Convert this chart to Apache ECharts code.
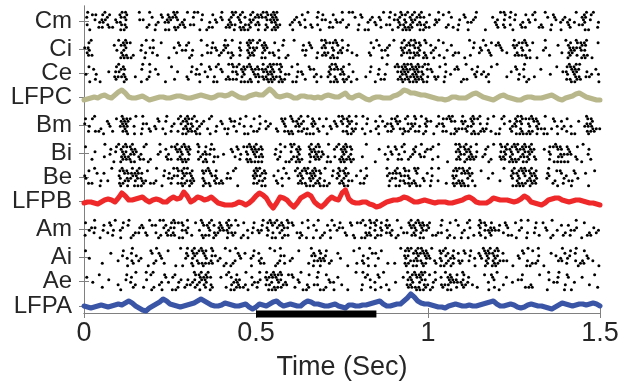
<!DOCTYPE html>
<html>
<head>
<meta charset="utf-8">
<title>Raster and LFP</title>
<script src="https://cdn.jsdelivr.net/npm/echarts@6/dist/echarts.min.js"></script>
<style>
html, body { margin: 0; padding: 0; background: #fff; }
#chart { width: 624px; height: 386px; }
</style>
</head>
<body>
<div id="chart"></div>
<script>
// time base: one character / one LFP sample per 10 ms bin
var binSec = 0.01;
var stimulus = [0.5, 0.85];
var xTicks = [0, 0.5, 1, 1.5];

// spikes: 2 hex strings per unit, 1 digit per bin, bits = 4 trials each (top trial = 8)
var spikesCm = [
    '284505b401 6ad000910a 006073e901 8288500412 903ca5a05b 66ad7f9000 0304180285 10410908a0 6003021828 53c5a5b6a0 401940a001 6003800020 18d2850041 4900a06103 0108278580',
    '4100aa4228 d520000060 58099036c2 440101a280 06e50b75a4 d0529f6004 90c0242410 0a28806005 0190c02441 0e5b7a4d5a 2480060250 098000100c 2424104a28 0062050090 c28449100a'
];
var spikesCi = [
    '1580000020 a6d4002081 9040001602 4000820510 2b080506d9 5a71040280 080206100b d45e092000 00041a0030 805b6ad70c 2018402000 008501a042 61002b45e0 4000900200 a51d768004',
    '4a20000008 5b31208504 0200104088 1a00244086 84520a0d6a 0594429012 0008a00506 61b5c08402 0042009820 00e4d56a53 4902180640 1020480c20 0840062a39 0108020040 5e829b2100'
];
var spikesCe = [
    '0420000105 b600002809 2000040100 052081604a 108d5a74e3 62b5f9ad00 4091062000 07ae250810 0005020080 4d7fbe7d5a a104090260 0820501040 8000160280 0020000401 5e7b801020',
    '810a100046 4d20401060 0801002004 2089040510 0622a5913c d46bf653a8 1508204940 49538b6102 0400182a00 06be7df6b5 0460508001 220c084900 004000a412 4000080000 a3d6244809'
];
var spikesBm = [
    '5048002104 2f74080910 06028014b6 d5a0304802 1062050804 0920100650 e25b087140 4021ad6b09 085020a015 6b0491d087 200954ea02 b06d490508 049207ad45 e610806020 400200d700',
    '0a02610820 8eb0905042 c0410a025d 6a790410a0 4508209182 60480420a3 38a6519428 1c0802b560 410249082e 0452682a1a 0180a21564 4a93166021 5004a9531b 2d45140948 291008be64'
];
var spikesBi = [
    '4001008205 a5d6b10480 0092046b5e 700d052a00 00216045e7 b600020940 da7006b5d1 0824a7d600 0080020041 6049025083 24080000bd 6b50902408 0d7a5eb6d7 b002054e60 6104082000',
    '0020040810 5e6b94a212 0804a206b3 a0069b8540 80040a0b3d 5d00086011 65b20d4e68 51407b6b20 4000100828 0a20680c40 024001006a 96e6048120 46a5b36d5a 42000a15d9 9842108200'
];
var spikesBe = [
    '140a020080 5e62b7a040 0805209d6b a50064e150 0204800007 db600140a0 04b5ea7d60 8052d6b001 40900000b2 6a1d50e802 09080005da e6b0040020 00807a5ed6 b500290460 1060020040',
    '8220504000 b6d859d602 60108a02b6 5e00d234a6 288010000a 6590042908 006a3d96b5 12086b5400 2a00000058 9542b631c0 5040020b67 3941000800 400095b36d 6a0080610a 4508001000'
];
var spikesAm = [
    '4019020608 052800310a 208b05d460 9040e25a07 16b0a04005 0285e4b61d 6004092080 20a0510604 4a0d6852b0 08106b5e72 50028040a0 04902d6051 2061040908 0504108020 2009040010',
    '28401840a0 9001640420 4124a6219c 020832a568 8d46012940 c80a514922 0452101816 0908042030 156292a44a 124406a598 0264092105 8102429ca8 8402218050 4020812806 0a80106248'
];
var spikesAi = [
    '4000000200 0502810006 0a10400082 96b4e50d10 0840a12005 2000840910 004000b160 5002000040 810a204000 0085da6be7 18064b0520 605021e7a5 d200001608 409002010a 0528041000',
    '0800020004 0094248010 6082001018 0b423a6248 1216080090 4a20016024 80000254dc 0600801002 4290180020 200b65d43a 842d169a46 0409085a5b 6440108051 26010004c0 a041628401'
];
var spikesAe = [
    '2000400100 0052080094 8006024010 10d6b7a002 04a0510820 092b6e5d04 6018040280 4102000008 0a41060800 0020b5e6d9 40920a7150 d200004061 8020001500 0040090280 6000200040',
    '0080020004 1008600201 2490811a06 48694a5200 0259e26148 a04593a6c0 0281524411 2890401000 5002902410 80046a3b56 1a046598ac 6840200902 1400800026 2000108805 0180004002'
];

// LFP traces, one sample per bin (a.u.)
var lfpC = [-3,-2,-1,0,-1,1,2,0,-1,2, 5,7,4,0,-1,-1,0,1,-1,-3, -2,-1,0,0,-1,-1,0,1,1,0,
    -1,-1,0,1,2,1,0,-1,0,2, 2,1,2,4,2,0,-1,-1,1,2, 3,2,2,5,8,5,1,0,1,2,
    1,-1,-1,1,1,0,0,-1,0,-1, 1,2,1,0,0,2,4,0,-1,1, 2,0,-2,-3,-1,0,0,-1,-1,-1,
    1,2,4,7,6,4,4,3,2,2, 1,0,-1,-2,-2,-3,-2,0,0,-1, -1,-1,1,3,4,2,0,-1,-2,-3,
    -1,1,2,0,-1,-2,-3,-3,-1,0, 0,-1,-1,-1,0,1,2,0,-2,-3, -1,0,1,3,4,2,0,-1,-2,-3, -3];
var lfpB = [-2,-1,-1,-2,-3,-1,1,2,1,-1, 3,8,5,1,1,2,3,4,1,-1, 1,2,1,-1,-1,2,4,2,3,9,
    5,-1,1,4,3,1,2,4,1,-2, -3,-4,-4,-4,-3,-1,-2,-4,-2,1, 5,8,6,3,-3,-7,-2,4,3,1,
    -3,-6,-2,3,5,7,5,-1,-4,-6, -3,1,4,2,1,8,11,2,-1,-2, -2,-1,-1,-3,-4,-6,-5,-3,-1,0,
    1,1,2,4,3,1,-1,-1,0,1, 0,-1,-2,-1,-1,-1,-2,-2,-1,0, 1,3,4,2,-1,-2,-2,-2,0,3,
    2,1,1,1,0,-1,0,2,5,3, -1,-2,-3,-4,-2,1,2,3,3,1, 0,-1,0,1,1,0,-1,-2,-2,-3, -4];
var lfpA = [0,-1,-2,-1,0,1,0,-1,0,1, 2,1,3,5,3,0,-2,-4,-5,-2, 0,2,4,7,5,2,1,0,-1,0,
    1,2,3,5,7,5,3,1,0,0, 1,3,2,1,0,0,1,2,-1,-3, -1,2,1,0,2,4,5,2,0,1,
    2,1,0,0,3,5,4,2,2,1, 0,0,1,2,0,-1,-2,1,1,0, 0,1,1,2,3,4,5,2,0,0,
    1,2,2,5,8,12,9,5,3,2, 2,1,0,-1,-1,-2,0,1,2,1, 0,0,1,0,0,1,2,3,4,5,
    2,0,0,1,2,1,-1,-2,-1,1, 2,1,0,0,-1,-2,-3,-1,1,3, 2,1,0,1,2,2,1,2,3,2, 0];

// row layout (y axis runs in pixels up from the bottom of the box)
var rows = [
    {name: 'Cm', y: 292, spikes: spikesCm},
    {name: 'Ci', y: 264, spikes: spikesCi},
    {name: 'Ce', y: 240, spikes: spikesCe},
    {name: 'LFPC', y: 216, lfp: lfpC, color: '#b8b78b'},
    {name: 'Bm', y: 188, spikes: spikesBm},
    {name: 'Bi', y: 160, spikes: spikesBi},
    {name: 'Be', y: 136, spikes: spikesBe},
    {name: 'LFPB', y: 112, lfp: lfpB, color: '#ef2929'},
    {name: 'Am', y: 84, spikes: spikesAm},
    {name: 'Ai', y: 56, spikes: spikesAi},
    {name: 'Ae', y: 32, spikes: spikesAe},
    {name: 'LFPA', y: 7, lfp: lfpA, color: '#3b55a6'}
];
var rowPos = rows.map(function (r) { return r.y; });
var rowName = {};
rows.forEach(function (r) { rowName[r.y] = r.name; });

function spikeDots(strs, y0) {
    var pts = [];
    strs.forEach(function (s, h) {
        s = s.replace(/ /g, '');
        for (var i = 0; i < s.length; i++) {
            var v = parseInt(s[i], 16);
            for (var b = 0; b < 4; b++) {
                if (v & (8 >> b)) {
                    var k = h * 4 + b;
                    pts.push([(i + 0.5) * binSec + ((k * 3) % 8 - 3.5) * 0.0012, y0 + 8.75 - k * 2.5]);
                }
            }
        }
    });
    return pts;
}

var series = [];
rows.forEach(function (r) {
    if (r.spikes) {
        series.push({
            type: 'scatter', name: r.name, symbol: 'circle', symbolSize: 3,
            itemStyle: {color: '#000', opacity: 1}, silent: true,
            data: spikeDots(r.spikes, r.y)
        });
    } else {
        series.push({
            type: 'line', name: r.name, showSymbol: false, smooth: false, silent: true,
            lineStyle: {color: r.color, width: 5, join: 'round', cap: 'round'},
            data: r.lfp.map(function (v, i) { return [i * binSec, r.y + v]; })
        });
    }
});
// stimulus bar on the time axis
series.push({
    type: 'line', showSymbol: false, clip: false, silent: true, z: 10,
    lineStyle: {color: '#000', width: 7},
    data: [[stimulus[0], -1], [stimulus[1], -1]]
});

var boxColor = '#808080';
var textColor = '#262626';
var font = "'Liberation Sans', Arial, sans-serif";

var chart = echarts.init(document.getElementById('chart'));
chart.setOption({
    animation: false,
    grid: {left: 84, right: 24, top: 6, bottom: 73},
    xAxis: [{
        type: 'value', min: 0, max: 1.5, interval: 0.5,
        axisLine: {show: true, lineStyle: {color: boxColor}},
        axisTick: {show: true, inside: true, length: 5, customValues: xTicks, lineStyle: {color: boxColor}},
        axisLabel: {fontSize: 27, color: textColor, fontFamily: font, margin: 7},
        splitLine: {show: false},
        name: 'Time (Sec)', nameLocation: 'middle', nameGap: 41,
        nameTextStyle: {fontSize: 27, color: textColor, fontFamily: font}
    }, {
        type: 'value', position: 'top', min: 0, max: 1.5, interval: 0.5,
        axisLine: {show: true, lineStyle: {color: boxColor}},
        axisTick: {show: true, inside: true, length: 5, lineStyle: {color: boxColor}},
        axisLabel: {show: false},
        splitLine: {show: false}
    }],
    yAxis: [{
        type: 'value', min: 0, max: 307,
        axisLine: {show: true, lineStyle: {color: boxColor}},
        axisTick: {show: true, inside: true, length: 5, customValues: rowPos, lineStyle: {color: boxColor}},
        axisLabel: {
            customValues: rowPos, fontSize: 24, color: textColor, fontFamily: font, margin: 12,
            formatter: function (v) { return rowName[v] || ''; }
        },
        splitLine: {show: false}
    }, {
        type: 'value', position: 'right', min: 0, max: 307,
        axisLine: {show: true, lineStyle: {color: boxColor}},
        axisTick: {show: true, inside: true, length: 5, customValues: rowPos, lineStyle: {color: boxColor}},
        axisLabel: {show: false},
        splitLine: {show: false}
    }],
    series: series
});
</script>
</body>
</html>
